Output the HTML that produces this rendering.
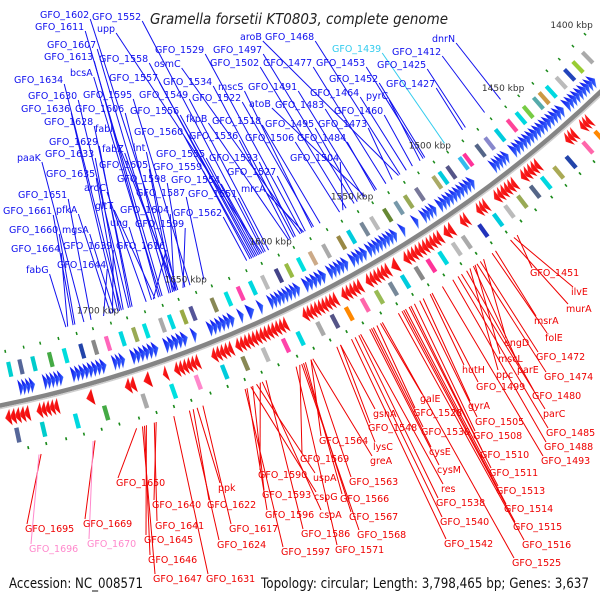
<!DOCTYPE html>
<html><head><meta charset="utf-8"><style>
html,body{margin:0;padding:0;background:#fff;}
svg{display:block;}
text{font-family:"DejaVu Sans","Liberation Sans",sans-serif;}
</style></head><body>
<svg id="map" width="600" height="600" viewBox="0 0 600 600" xmlns="http://www.w3.org/2000/svg">
<defs>
<linearGradient id="gb" x1="0" y1="0" x2="1" y2="0"><stop offset="0" stop-color="#0000e8"/><stop offset="1" stop-color="#3a6cff"/></linearGradient>
<linearGradient id="gr" x1="0" y1="0" x2="1" y2="0"><stop offset="0" stop-color="#ff2020"/><stop offset="1" stop-color="#e80000"/></linearGradient>
</defs>
<text x="150" y="24" font-size="15" font-style="italic" fill="#222" textLength="298" lengthAdjust="spacingAndGlyphs">Gramella forsetii KT0803, complete genome</text>
<g id="lines"></g><g id="ring"></g><g id="labels"></g>
<text x="9" y="588" font-size="14" fill="#111" textLength="134" lengthAdjust="spacingAndGlyphs">Accession: NC_008571</text>
<text x="261" y="588" font-size="14" fill="#111" textLength="328" lengthAdjust="spacingAndGlyphs">Topology: circular; Length: 3,798,465 bp; Genes: 3,637</text>
</svg>
<script>
// ---- data ----
const tickKbp = [1400,1450,1500,1550,1600,1650,1700];
const blueSegStart = [1411,1433,1470,1492,1516,1527,1535,1540,1558,1569,1582,1597,1618,1623,1629,1634,1655,1660,1676,1694,1704,1727,1742];
const blueSegEnd   = [1431,1467,1480,1514,1524,1529,1537,1557,1567,1580,1594,1614,1620,1626,1631,1648,1657,1672,1690,1700,1722,1737,1750];
const redSegStart = [1427,1437,1461,1476,1494,1506,1515,1522,1548,1553,1569,1583,1611,1641,1659,1676,1685,1693,1715,1733,1748];
const redSegEnd   = [1433,1443,1472,1489,1500,1510,1520,1544,1551,1566,1580,1602,1639,1652,1672,1678,1688,1698,1718,1744,1760];
const innerCogKbp = [1405,1412,1418,1424,1431,1436,1440,1447,1452,1458,1466,1473,1479,1487,1490,1498,1503,1507,1518,1525,1531,1538,1546,1552,1560,1566,1575,1583,1590,1597,1603,1611,1618,1625,1632,1640,1652,1657,1664,1669,1678,1684,1691,1699,1706,1713,1722,1730,1739,1746,1752];
const innerCogCol = ["#aaaaaa","#99cc33","#2244bb","#bbbbbb","#00d8e0","#cc9944","#55aaaa","#77cc44","#00d8e0","#ff4499","#00ccdd","#8888cc","#556688","#ff3399","#33bbee","#555588","#00ccdd","#aaaa66","#777799","#99aa55","#7799aa","#668833","#bbbbbb","#778899","#00ccdd","#998844","#aaaaaa","#ccaa88","#00e0e0","#99bb44","#444488","#bbbbbb","#00d8e0","#ff44aa","#00e0e0","#888855","#555599","#99aa44","#00d8e0","#aaaaaa","#00e0e0","#99aa55","#00d8e0","#ff66bb","#888888","#2244aa","#00dddd","#44aa44","#00cccc","#556699","#00d0d0"];
const outerCogKbp = [1428,1436,1447,1455,1463,1470,1478,1486,1493,1502,1512,1518,1526,1533,1540,1548,1555,1563,1571,1580,1588,1596,1607,1615,1626,1637,1648,1662,1675,1690,1710,1725,1742,1755];
const outerCogCol = ["#ff8800","#ff66aa","#2244aa","#aaaa55","#00d8e0","#556688","#99aa55","#bbbbbb","#00ccdd","#2233bb","#aaaaaa","#bbbbbb","#00d8e0","#ff3399","#888888","#00ccdd","#778899","#99bb55","#ff66aa","#ff8800","#555588","#aaaaaa","#00d8e0","#ff44aa","#bbbbbb","#888855","#00ccdd","#ff88cc","#00e0e0","#aaaaaa","#44aa44","#00d8e0","#00cccc","#556699"];
const innerDotKbp = [1398,1407,1417,1426,1436,1446,1455,1465,1474,1484,1494,1503,1513,1522,1532,1542,1551,1561,1570,1580,1590,1599,1609,1618,1628,1638,1647,1657,1666,1676,1686,1695,1705,1714,1724,1734,1743,1753];
const outerDotKbp = [1402,1411,1420,1430,1439,1448,1457,1466,1476,1485,1494,1503,1512,1521,1531,1540,1549,1558,1567,1577,1586,1595,1604,1613,1623,1632,1641,1650,1659,1669,1678,1687,1696,1706,1715,1724,1733,1743,1752];
const blueNames = ["GFO_1602","GFO_1552","GFO_1611","upp","GFO_1607","GFO_1613","bcsA","GFO_1634","GFO_1630","GFO_1595","GFO_1636","GFO_1606","GFO_1628","fabI","GFO_1629","GFO_1633","fabZ","int","paaK","GFO_1605","GFO_1635","GFO_1598","aroC","GFO_1587","GFO_1651","GFO_1661","pfkA","gltT","GFO_1604","ung","GFO_1660","mgsA","GFO_1599","GFO_1639","GFO_1616","GFO_1664","fabG","GFO_1644","GFO_1558","GFO_1557","GFO_1549","GFO_1556","GFO_1560","GFO_1555","GFO_1559","GFO_1554","GFO_1551","GFO_1562","GFO_1529","osmC","GFO_1534","GFO_1522","fkpB","GFO_1536","GFO_1533","GFO_1527","mrcA","GFO_1497","GFO_1502","mscS","GFO_1518","GFO_1506","aroB","GFO_1468","GFO_1477","GFO_1491","atoB","GFO_1483","GFO_1495","GFO_1484","GFO_1504","GFO_1439","GFO_1453","GFO_1452","GFO_1464","GFO_1460","GFO_1473","pyrC","GFO_1412","GFO_1425","GFO_1427","dnrN"];
const blueKbp = [1656,1606,1665,1607,1661,1667,1666,1688,1684,1649,1690,1660,1682,1657,1683,1687,1658,1657,1709,1659,1689,1652,1674,1641,1705,1715,1694,1669,1658,1671,1714,1692,1653,1693,1670,1718,1719,1698,1612,1611,1603,1610,1614,1609,1613,1608,1605,1616,1583,1584,1588,1576,1591,1590,1587,1581,1582,1551,1556,1577,1572,1560,1523,1522,1531,1545,1544,1537,1549,1538,1558,1493,1507,1506,1518,1514,1527,1509,1466,1479,1481,1455];
const blueLabelPos = [[40,18],[92,20],[35,30],[97,32],[47,48],[44,60],[70,76],[14,83],[28,99],[83,98],[21,112],[75,112],[44,125],[95,132],[49,145],[45,157],[102,152],[133,151],[17,161],[99,168],[46,177],[117,182],[84,191],[136,196],[18,198],[3,214],[56,213],[95,209],[120,213],[110,226],[9,233],[62,233],[135,227],[63,249],[116,249],[11,252],[26,273],[57,268],[99,62],[109,81],[139,98],[130,114],[134,135],[156,157],[153,170],[171,183],[188,197],[173,216],[155,53],[154,67],[163,85],[192,101],[186,122],[189,139],[209,161],[227,175],[241,192],[213,53],[210,66],[218,90],[212,124],[245,141],[240,40],[265,40],[263,66],[248,90],[249,107],[275,108],[265,127],[297,141],[290,161],[332,52],[316,66],[329,82],[310,96],[334,114],[318,127],[366,99],[392,55],[377,68],[386,87],[432,42]];
const redNames = ["GFO_1451","ilvE","murA","msrA","folE","engD","GFO_1472","mscL","GFO_1474","hutH","ppc","parE","GFO_1499","GFO_1480","parC","galE","gyrA","GFO_1505","GFO_1485","gshA","GFO_1548","GFO_1528","GFO_1530","GFO_1508","GFO_1488","GFO_1493","GFO_1564","lysC","cysE","GFO_1510","greA","GFO_1511","GFO_1569","cysM","res","GFO_1513","GFO_1563","GFO_1538","GFO_1514","GFO_1590","uspA","GFO_1566","GFO_1515","GFO_1593","cspG","GFO_1567","GFO_1540","GFO_1516","GFO_1596","cspA","GFO_1568","GFO_1542","GFO_1586","GFO_1571","GFO_1597","GFO_1525","ppk","GFO_1622","GFO_1617","GFO_1624","GFO_1631","GFO_1650","GFO_1640","GFO_1641","GFO_1645","GFO_1646","GFO_1647","GFO_1669","GFO_1670","GFO_1695","GFO_1696"];
const redKbp = [1491,1493,1495,1504,1506,1511,1513,1516,1515,1542,1519,1517,1541,1521,1524,1570,1546,1548,1526,1592,1592,1572,1574,1551,1529,1535,1608,1594,1575,1553,1607,1554,1614,1576,1581,1556,1608,1582,1557,1635,1637,1611,1558,1639,1640,1612,1584,1560,1642,1634,1613,1586,1632,1616,1643,1569,1668,1670,1665,1672,1680,1699,1689,1690,1694,1695,1696,1720,1721,1747,1748];
const redLabelPos = [[530,276],[571,295],[566,312],[534,324],[545,341],[504,346],[536,360],[498,362],[544,380],[462,373],[496,378],[517,373],[476,390],[532,399],[543,417],[420,402],[468,409],[475,425],[546,436],[373,417],[368,431],[413,416],[421,435],[473,439],[544,450],[541,464],[319,444],[373,450],[429,455],[480,458],[370,464],[489,476],[300,462],[437,473],[441,492],[496,494],[349,485],[436,506],[504,512],[258,478],[313,481],[340,502],[513,530],[262,498],[314,500],[349,520],[440,525],[522,548],[265,518],[319,518],[357,538],[444,547],[301,537],[335,553],[281,555],[512,566],[218,491],[207,508],[229,532],[217,548],[206,582],[116,486],[152,508],[155,529],[144,543],[148,563],[153,582],[83,527],[87,547],[25,532],[29,552]];
const lightBlue = ["GFO_1439"];
const pinkNames = ["GFO_1670","GFO_1696"];

// ---- geometry ----
const CX=-243, CY=-791, R=1221;
const NS='http://www.w3.org/2000/svg';
function ang(k){return (54.3+(k-1500)*0.0925)*Math.PI/180;}
function pt(k,r){const a=ang(k);return [CX+r*Math.cos(a),CY+r*Math.sin(a)];}
function P(a){return a[0].toFixed(1)+','+a[1].toFixed(1);}
function mk(tag,parent){const e=document.createElementNS(NS,tag);parent.appendChild(e);return e;}
const gRing=document.getElementById('ring'),gLines=document.getElementById('lines'),gLab=document.getElementById('labels');

const bb=mk('circle',gRing);


bb.setAttribute('cx',CX);bb.setAttribute('cy',CY);bb.setAttribute('r',R);bb.setAttribute('fill','none');bb.setAttribute('stroke','#858585');bb.setAttribute('stroke-width','4.5');
const bb2=mk('circle',gRing);


bb2.setAttribute('cx',CX);bb2.setAttribute('cy',CY);bb2.setAttribute('r',R+3);bb2.setAttribute('fill','none');bb2.setAttribute('stroke','#cfcfcf');bb2.setAttribute('stroke-width','1.5');

function drawSegs(starts,ends,r1,r2,fill,name,pointLow){
  for(let i=0;i<starts.length;i++){
    const s=starts[i],e=ends[i];
    const n=Math.max(1,Math.round((e-s)/2.2));
    const step=(e-s)/n;
    for(let j=0;j<n;j++){
      const a=s+j*step,b=a+Math.max(step*1.25,2.2);
      const pg=mk('polygon',gRing);
      
      
      const mid=(r1+r2)/2;
      let pts;
      if(pointLow) pts=[pt(a,mid),pt(b,r1),pt(b,r2)];
      else pts=[pt(b,mid),pt(a,r1),pt(a,r2)];
      pg.setAttribute('points',pts.map(P).join(' '));
      pg.setAttribute('fill',fill);
      pg.setAttribute('stroke','#ffffff');pg.setAttribute('stroke-width','0.25');pg.setAttribute('stroke-opacity','0.6');
    }
  }
}
drawSegs(blueSegStart,blueSegEnd,1199,1216,'url(#gb)','forward-gene',true);
drawSegs(redSegStart,redSegEnd,1226,1243,'url(#gr)','reverse-gene',false);

function drawBoxes(ks,cols,r1,r2,name){
  for(let i=0;i<ks.length;i++){
    const pg=mk('polygon',gRing);
    
    
    const k=ks[i],w=2.2;
    pg.setAttribute('points',[pt(k,r1),pt(k+w,r1),pt(k+w,r2),pt(k,r2)].map(P).join(' '));
    pg.setAttribute('fill',cols[i]);
  }
}
drawBoxes(innerCogKbp,innerCogCol,1180,1195,'cog-box-inner');
drawBoxes(outerCogKbp,outerCogCol,1246,1261,'cog-box-outer');

function drawDots(ks,r,name){
  for(const k of ks){
    const pg=mk('polygon',gRing);
    
    
    pg.setAttribute('points',[pt(k,r-1.5),pt(k+0.8,r-1.5),pt(k+0.8,r+1.5),pt(k,r+1.5)].map(P).join(' '));
    pg.setAttribute('fill','#1a8a1a');
  }
}
drawDots(innerDotKbp,1169,'gc-dot-inner');
drawDots(outerDotKbp,1268,'gc-dot-outer');

for(const k of tickKbp){
  const t=mk('text',gLab);
  
  
  const p=pt(k,1153);
  t.setAttribute('x',p[0].toFixed(1));t.setAttribute('y',(p[1]+3).toFixed(1));
  t.setAttribute('text-anchor','middle');t.setAttribute('font-size','9');t.setAttribute('fill','#333');
  t.textContent=k+' kbp';
}

function drawLabels(names,kbps,pos,color,rEnd,isBlue){
  for(let i=0;i<names.length;i++){
    let c=color;
    if(lightBlue.includes(names[i])) c='#33ccee';
    if(pinkNames.includes(names[i])) c='#ff88cc';
    const t=mk('text',gLab);
    
    
    t.setAttribute('x',pos[i][0]);t.setAttribute('y',pos[i][1]);
    t.setAttribute('font-size','9.5');t.setAttribute('fill',c);
    t.textContent=names[i];
    const w=t.getComputedTextLength();
    const g=pt(kbps[i],rEnd);
    const ln=mk('line',gLines);
    
    
    let ax,ay;
    if(isBlue){ax=pos[i][0]+w+1;ay=pos[i][1]+1;}
    else{ax=pos[i][0]+2;ay=pos[i][1]-8;}
    ln.setAttribute('x1',ax);ln.setAttribute('y1',ay);
    ln.setAttribute('x2',g[0].toFixed(1));ln.setAttribute('y2',g[1].toFixed(1));
    ln.setAttribute('stroke',c);ln.setAttribute('stroke-width','1');
  }
}
drawLabels(blueNames,blueKbp,blueLabelPos,'#1010ee',1160,true);
drawLabels(redNames,redKbp,redLabelPos,'#ee0000',1277,false);
</script>
</body></html>
